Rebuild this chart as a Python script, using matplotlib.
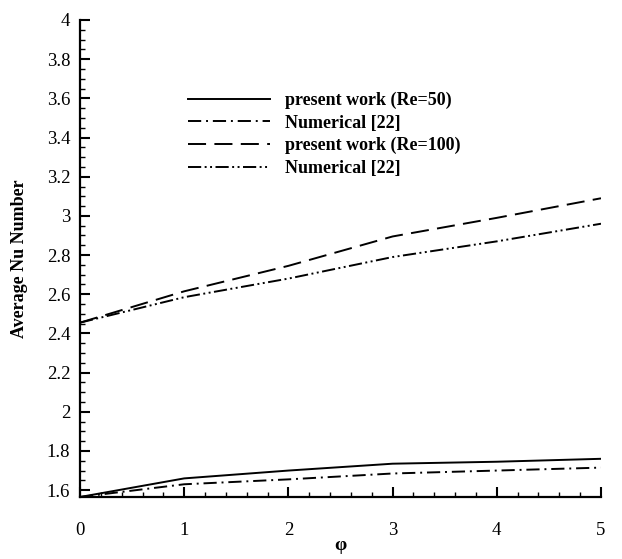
import numpy as np
import matplotlib
matplotlib.use('Agg')
import matplotlib.pyplot as plt
from matplotlib.ticker import MultipleLocator

plt.rcParams['font.family'] = ['Liberation Serif', 'DejaVu Serif']
plt.rcParams['lines.scale_dashes'] = False

# data
phi = np.array([0, 1, 2, 3, 4, 5])
nu_re50 = np.array([1.565, 1.66, 1.70, 1.735, 1.745, 1.76])
nu_re50_num = np.array([1.565, 1.63, 1.655, 1.685, 1.70, 1.715])
nu_re100 = np.array([2.455, 2.615, 2.745, 2.895, 2.99, 3.09])
nu_re100_num = np.array([2.455, 2.585, 2.68, 2.79, 2.87, 2.96])
labels = ['present work (Re=50)', 'Numerical [22]',
          'present work (Re=100)', 'Numerical [22]']

fig = plt.figure(figsize=(6.22, 5.59), dpi=100)
ax = fig.add_axes([80 / 622, 62 / 559, 521 / 622, 477 / 559])

ax.plot(phi, nu_re50, color='black', lw=1.4, linestyle='-', label=labels[0])
ax.plot(phi, nu_re50_num, color='black', lw=1.4,
        linestyle=(0, (9.5, 3.5, 1.4, 3.5)), label=labels[1])
ax.plot(phi, nu_re100, color='black', lw=1.4,
        linestyle=(0, (13, 6)), label=labels[2])
ax.plot(phi, nu_re100_num, color='black', lw=1.4,
        linestyle=(0, (9.5, 2.5, 1.4, 2.5, 1.4, 2.5)), label=labels[3])

ax.set_xlim(0, 5)
ax.set_ylim(1.565, 4)
ax.xaxis.set_major_locator(MultipleLocator(1))
ax.xaxis.set_minor_locator(MultipleLocator(0.2))
ax.yaxis.set_minor_locator(MultipleLocator(0.05))
yt = np.round(np.arange(1.6, 4.01, 0.2), 1)
ax.set_yticks(yt)
ax.set_yticklabels(['%g' % v for v in yt])

for s in ['top', 'right']:
    ax.spines[s].set_visible(False)
for s in ['left', 'bottom']:
    ax.spines[s].set_linewidth(1.6)

ax.tick_params(which='major', direction='in', length=7, width=1.5, labelsize=13.5)
ax.tick_params(which='minor', direction='in', length=3.5, width=1.0)
ax.tick_params(axis='x', which='major', pad=18)
ax.tick_params(axis='y', which='major', pad=7)

ax.set_xlabel('φ', fontsize=14, fontweight='bold')
ax.xaxis.set_label_coords(0.5, -0.083)
ax.set_ylabel('Average Nu Number', fontsize=13, fontweight='bold')
ax.yaxis.set_label_coords(-0.099, 0.5)

ax.legend(loc='upper left', bbox_to_anchor=(0.207, 0.849), frameon=False,
          prop={'weight': 'bold', 'size': 13}, handlelength=4.55,
          handletextpad=0.83, labelspacing=0.3, borderpad=0, borderaxespad=0)

fig.savefig('out.png', dpi=100)
